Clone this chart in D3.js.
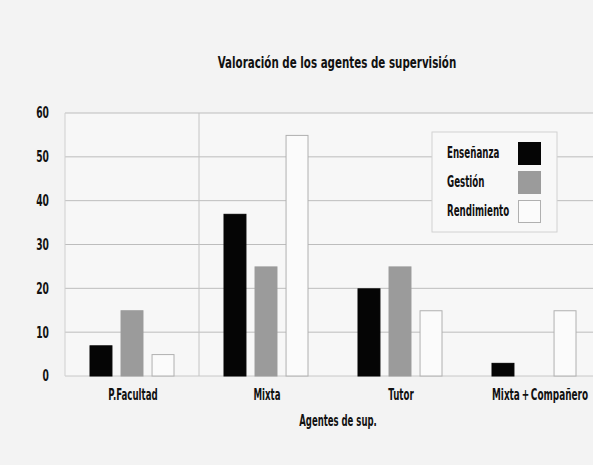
<!DOCTYPE html>
<html>
<head>
<meta charset="utf-8">
<script src="https://cdn.jsdelivr.net/npm/d3@7"></script>
<style>
  body { margin: 0; background: #f3f3f3; }
  svg { display: block; }
  text { font-family: "DejaVu Sans", sans-serif; font-stretch: condensed; font-weight: bold; fill: #111; }
</style>
</head>
<body>
<svg id="chart" width="593" height="465"></svg>
<script>
// data
const categories = ["P.Facultad", "Mixta", "Tutor", "Mixta\u2009+\u2009Compañero"];
const series = ["Enseñanza", "Gestión", "Rendimiento"];
const ensenanza = [7, 37, 20, 3];
const gestion = [15, 25, 25, 0];
const rendimiento = [5, 55, 15, 15];
const yTicks = [0, 10, 20, 30, 40, 50, 60];

const fills = ["#050505", "#9b9b9b", "#fbfbfb"];
const strokes = ["#050505", "#9b9b9b", "#b0b0b0"];

const svg = d3.select("#chart");
const margin = { left: 65, top: 113, right: -8, bottom: 89 };
const width = 593 - margin.left - margin.right;
const height = 465 - margin.top - margin.bottom;

// the original face is a narrow one, squeeze texts sideways around their anchor
function squeeze(sel, k) {
    sel.each(function () {
        const t = d3.select(this);
        const ax = +t.attr("x"), ay = +t.attr("y");
        t.attr("transform", `translate(${ax},${ay}) scale(${k},1) translate(${-ax},${-ay})`);
    });
}

const x = d3.scaleBand()
    .domain(categories)
    .range([margin.left, margin.left + width]);

const xInner = d3.scaleBand()
    .domain(series)
    .range([0, 85])
    .paddingInner(0.26);

const y = d3.scaleLinear()
    .domain([0, 60])
    .range([margin.top + height, margin.top]);

// plot background
svg.append("rect")
    .attr("x", margin.left)
    .attr("y", margin.top)
    .attr("width", width)
    .attr("height", height)
    .attr("fill", "#f7f7f7");

// horizontal grid
svg.append("g")
    .selectAll("line")
    .data(yTicks)
    .enter().append("line")
    .attr("x1", margin.left)
    .attr("x2", 593)
    .attr("y1", d => y(d))
    .attr("y2", d => y(d))
    .attr("stroke", d => d === 0 ? "#c8c8c8" : "#bdbdbd")
    .attr("stroke-width", 1);

// left border and the one divider between first groups
svg.append("line")
    .attr("x1", margin.left).attr("x2", margin.left)
    .attr("y1", y(60)).attr("y2", y(0))
    .attr("stroke", "#cfcfcf");
svg.append("line")
    .attr("x1", x("Mixta")).attr("x2", x("Mixta"))
    .attr("y1", y(60)).attr("y2", y(0))
    .attr("stroke", "#c4c4c4");

// y tick labels
svg.append("g")
    .selectAll("text")
    .data(yTicks)
    .enter().append("text")
    .attr("x", 49)
    .attr("y", d => y(d))
    .attr("dy", "0.36em")
    .attr("text-anchor", "end")
    .style("font-size", "15px")
    .text(d => d)
    .call(squeeze, 0.68);

// bars
const values = [ensenanza, gestion, rendimiento];
const groupPad = (x.bandwidth() - 85) / 2;
series.forEach((s, i) => {
    svg.append("g")
        .selectAll("rect")
        .data(categories.map((c, j) => ({ c, v: values[i][j] })))
        .enter().append("rect")
        .attr("x", d => x(d.c) + groupPad + xInner(s) + 0.5)
        .attr("y", d => y(d.v) + 0.5)
        .attr("width", xInner.bandwidth() - 1)
        .attr("height", d => Math.max(0, y(0) - y(d.v) - 0.5))
        .attr("fill", fills[i])
        .attr("stroke", strokes[i])
        .attr("stroke-width", 1);
});

// x tick labels
svg.append("g")
    .selectAll("text")
    .data(categories)
    .enter().append("text")
    .attr("x", (d, i) => i === 3 ? 540 : x(d) + x.bandwidth() / 2 + 1)
    .attr("y", 400)
    .attr("text-anchor", "middle")
    .style("font-size", "15px")
    .text(d => d)
    .each(function (d, i) { squeeze(d3.select(this), i === 3 ? 0.66 : 0.64); });

// titles
svg.append("text")
    .attr("x", 337)
    .attr("y", 68)
    .attr("text-anchor", "middle")
    .style("font-size", "16px")
    .text("Valoración de los agentes de supervisión")
    .call(squeeze, 0.717);

svg.append("text")
    .attr("x", 338)
    .attr("y", 426)
    .attr("text-anchor", "middle")
    .style("font-size", "15px")
    .text("Agentes de sup.")
    .call(squeeze, 0.63);

// legend
const legend = svg.append("g");
legend.append("rect")
    .attr("x", 432)
    .attr("y", 132)
    .attr("width", 125)
    .attr("height", 100)
    .attr("fill", "#f8f8f8")
    .attr("stroke", "#d2d2d2");

const legendY = d3.scalePoint()
    .domain(series)
    .range([153, 211]);

legend.selectAll("rect.sw")
    .data(series)
    .enter().append("rect")
    .attr("class", "sw")
    .attr("x", 518.5)
    .attr("y", d => legendY(d) - 11 + 0.5)
    .attr("width", 22)
    .attr("height", 22)
    .attr("fill", (d, i) => fills[i])
    .attr("stroke", (d, i) => strokes[i]);

legend.selectAll("text")
    .data(series)
    .enter().append("text")
    .attr("x", 447)
    .attr("y", d => legendY(d))
    .attr("dy", "0.36em")
    .style("font-size", "15px")
    .text(d => d)
    .call(squeeze, 0.645);
</script>
</body>
</html>
